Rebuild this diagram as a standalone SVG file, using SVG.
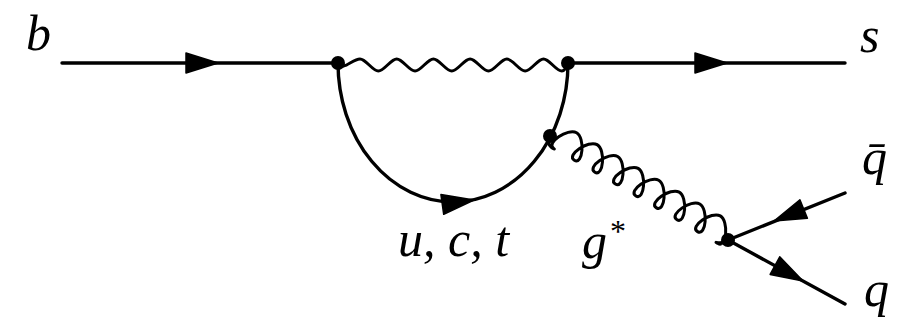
<svg xmlns="http://www.w3.org/2000/svg" xmlns:xlink="http://www.w3.org/1999/xlink" width="908" height="325" viewBox="0 0 908 325">
<style>
.ln{fill:none;stroke:#000;stroke-width:3.4;stroke-linecap:round;stroke-linejoin:round}
.wv{fill:none;stroke:#000;stroke-width:3;stroke-linejoin:round}
.dot{fill:#000}
</style>
<defs>
<path id="arr" d="M0,0 L-32,-10 L-32,10 Z" fill="#000" stroke="#000" stroke-width="1.5" stroke-linejoin="round"/>
</defs>
<rect width="908" height="325" fill="#fff"/>
<g id="connectors">
<line class="ln" x1="62" y1="63" x2="338" y2="63"/>
<line class="ln" x1="568" y1="63" x2="845" y2="63"/>
<path class="wv" d="M338,63 C343,72 352,59 360,59 c6,0 12.35,12 18.35,12 c6,0 12.35,-12 18.35,-12 c6,0 12.35,12 18.35,12 c6,0 12.35,-12 18.35,-12 c6,0 12.35,12 18.35,12 c6,0 12.35,-12 18.35,-12 c6,0 12.35,12 18.35,12 c6,0 12.35,-12 18.35,-12 c6,0 12.35,12 18.35,12 c6,0 12.35,-12 18.35,-12 c6,0 12.35,12 18.35,12 C565,71 567,66 568,63"/>
<path class="ln" d="M338,63 A115,139 0 0 0 568,63"/>
<path class="wv" transform="translate(550,137) rotate(30.06)" d="M0,0 C0,11 13,8 9,8 c-10,0 1.86,-25 11.86,-25 c10,0 21.86,25 11.86,25 c-10,0 1.86,-25 11.86,-25 c10,0 21.86,25 11.86,25 c-10,0 1.86,-25 11.86,-25 c10,0 21.86,25 11.86,25 c-10,0 1.86,-25 11.86,-25 c10,0 21.86,25 11.86,25 c-10,0 1.86,-25 11.86,-25 c10,0 21.86,25 11.86,25 c-10,0 1.86,-25 11.86,-25 c10,0 21.86,25 11.86,25 c-10,0 1.86,-25 11.86,-25 c10,0 21.86,25 11.86,25 c-10,0 1.86,-25 11.86,-25 c10,0 21.86,25 11.86,25 C192,8 202,9 205.7,0"/>
<line class="ln" x1="845" y1="193" x2="728" y2="240"/>
<line class="ln" x1="728" y1="240" x2="845" y2="304"/>
<use xlink:href="#arr" transform="translate(218,63)"/>
<use xlink:href="#arr" transform="translate(727,63)"/>
<use xlink:href="#arr" transform="translate(474,200) rotate(-8)"/>
<use xlink:href="#arr" transform="translate(774,221) rotate(158)"/>
<use xlink:href="#arr" transform="translate(803,281) rotate(28.7)"/>
</g>
<g id="v1"><circle class="dot" cx="338" cy="63" r="7"/></g>
<g id="v2"><circle class="dot" cx="568" cy="63" r="7"/></g>
<g id="v3"><circle class="dot" cx="550" cy="136" r="7"/></g>
<g id="v4"><circle class="dot" cx="728" cy="240" r="7"/></g>
<g font-family="Liberation Serif, Times New Roman, DejaVu Serif, serif" font-style="italic" font-size="50" fill="#000">
<g id="label-b"><text x="26" y="50">b</text></g>
<g id="label-s"><text x="860" y="52">s</text></g>
<g id="label-qbar"><text x="862" y="174">q̄</text></g>
<g id="label-q"><text x="864" y="306">q</text></g>
<g id="label-g"><text x="582" y="258">g</text><text x="610" y="242" font-style="normal" font-size="32">*</text></g>
<g id="label-uct"><text x="398" y="256">u, c, t</text></g>
</g>
</svg>
